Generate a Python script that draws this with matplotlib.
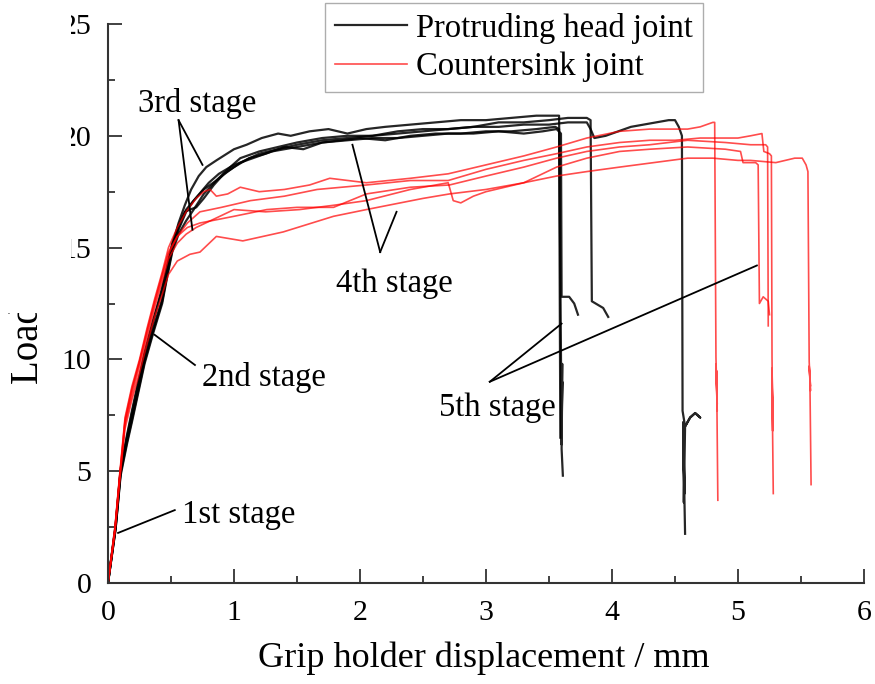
import matplotlib
matplotlib.use("Agg")
import matplotlib.pyplot as plt
from matplotlib.patches import Rectangle
from matplotlib.ticker import MultipleLocator

plt.rcParams['font.family'] = ['Liberation Serif', 'DejaVu Serif']

# protruding head joints (black)
b1_x = [0, 0.06, 0.10, 0.15, 0.19, 0.24, 0.29, 0.36, 0.42, 0.47, 0.51, 0.56, 0.61, 0.66, 0.72, 0.78, 0.86,
        1.00, 1.10, 1.22, 1.35, 1.45, 1.60, 1.75, 1.90, 2.05, 2.20, 2.40, 2.60, 2.80, 3.00, 3.20, 3.40, 3.50, 3.58,
        3.595, 3.600, 3.605, 3.600, 3.605, 3.600, 3.610]
b1_y = [0, 2.5, 5.0, 6.5, 7.6, 8.9, 10.2, 11.7, 13.0, 14.1, 15.1, 16.1, 16.9, 17.6, 18.2, 18.6, 18.9,
        19.4, 19.6, 19.9, 20.1, 20.0, 20.2, 20.3, 20.1, 20.3, 20.4, 20.5, 20.6, 20.7, 20.7, 20.8, 20.9, 20.9, 20.9,
        10.2, 6.2, 9.8, 6.5, 9.0, 6.0, 4.8]
b2_x = [0, 0.06, 0.10, 0.15, 0.19, 0.24, 0.29, 0.36, 0.43, 0.47, 0.51, 0.56, 0.62, 0.68, 0.74, 0.80, 0.88,
        1.00, 1.15, 1.30, 1.50, 1.70, 1.90, 2.10, 2.30, 2.50, 2.70, 2.90, 3.10, 3.30, 3.45, 3.56, 3.595,
        3.60, 3.66, 3.70, 3.73]
b2_y = [0, 2.4, 4.9, 6.3, 7.3, 8.6, 9.9, 11.3, 12.6, 13.8, 14.9, 15.8, 16.6, 17.1, 17.5, 17.9, 18.3,
        18.7, 19.0, 19.3, 19.5, 19.7, 19.8, 19.9, 19.9, 20.0, 20.1, 20.1, 20.2, 20.1, 20.2, 20.3, 20.1,
        12.8, 12.8, 12.5, 12.0]
b3_x = [0, 0.06, 0.10, 0.15, 0.19, 0.24, 0.29, 0.36, 0.43, 0.47, 0.51, 0.56, 0.62, 0.68, 0.76, 0.86, 0.95,
        1.05, 1.20, 1.35, 1.50, 1.70, 1.90, 2.10, 2.30, 2.50, 2.70, 2.90, 3.10, 3.30, 3.50, 3.65, 3.80, 3.83,
        3.84, 3.87, 3.93, 3.97]
b3_y = [0, 2.4, 4.8, 6.2, 7.2, 8.5, 9.8, 11.2, 12.5, 13.7, 14.8, 15.6, 16.2, 16.7, 17.4, 18.0, 18.5,
        19.0, 19.3, 19.5, 19.7, 19.9, 20.0, 20.0, 20.2, 20.3, 20.3, 20.4, 20.6, 20.6, 20.7, 20.8, 20.8, 20.7,
        12.6, 12.5, 12.3, 11.9]
b4_x = [0, 0.06, 0.10, 0.15, 0.19, 0.24, 0.29, 0.36, 0.43, 0.47, 0.51, 0.56, 0.62, 0.68, 0.76, 0.86, 0.95,
        1.05, 1.20, 1.35, 1.50, 1.70, 1.90, 2.10, 2.30, 2.50, 2.70, 2.90, 3.10, 3.30, 3.50, 3.65, 3.80, 3.83,
        3.86, 3.95, 4.05, 4.15, 4.25, 4.35, 4.45, 4.50, 4.53, 4.555,
        4.56, 4.58, 4.62, 4.66, 4.70, 4.66, 4.62, 4.58, 4.57, 4.565, 4.575, 4.565, 4.575, 4.58]
b4_y = [0, 2.5, 5.0, 6.4, 7.4, 8.7, 10.0, 11.4, 12.7, 13.9, 15.0, 15.9, 16.7, 17.1, 17.6, 18.0, 18.4,
        18.8, 19.2, 19.4, 19.6, 19.8, 19.9, 20.0, 20.1, 20.2, 20.3, 20.4, 20.4, 20.5, 20.5, 20.6, 20.6, 20.3,
        19.9, 20.0, 20.2, 20.4, 20.5, 20.6, 20.7, 20.7, 20.4, 20.0,
        7.7, 7.0, 7.4, 7.6, 7.4, 7.6, 7.4, 7.0, 3.6, 7.2, 4.0, 6.8, 3.7, 2.2]
b5_x = [0, 0.06, 0.10, 0.15, 0.19, 0.24, 0.29, 0.36, 0.43, 0.47, 0.51, 0.56, 0.61, 0.65, 0.70, 0.76, 0.84,
        0.92, 1.00, 1.12, 1.25, 1.40, 1.55, 1.70, 1.85, 2.00, 2.20, 2.40, 2.60, 2.80, 3.00, 3.20, 3.40, 3.55,
        3.58, 3.59]
b5_y = [0, 2.6, 5.1, 6.6, 7.7, 9.0, 10.3, 11.8, 13.1, 14.2, 15.2, 16.0, 16.6, 16.7, 16.8, 17.2, 17.8,
        18.3, 18.6, 19.0, 19.2, 19.5, 19.4, 19.7, 19.8, 19.9, 19.8, 20.0, 20.1, 20.1, 20.2, 20.2, 20.3, 20.4,
        20.3, 6.5]

# countersink joints (red)
r1_x = [0, 0.055, 0.095, 0.135, 0.19, 0.25, 0.31, 0.37, 0.43, 0.48, 0.55, 0.62, 0.70, 0.76, 0.81, 0.86,
        0.95, 1.05, 1.20, 1.40, 1.60, 1.76, 2.05, 2.40, 2.70, 3.00, 3.30, 3.56, 3.80, 4.06, 4.30, 4.50, 4.60,
        4.70, 4.80, 4.815,
        4.825, 4.835, 4.825, 4.835, 4.83, 4.84]
r1_y = [0, 2.5, 5.0, 7.4, 8.8, 10.0, 11.4, 12.7, 13.9, 15.0, 15.9, 16.6, 17.2, 17.5, 17.6, 17.3,
        17.4, 17.7, 17.5, 17.6, 17.8, 18.1, 17.9, 18.1, 18.3, 18.7, 19.1, 19.5, 19.9, 20.2, 20.3, 20.3, 20.3,
        20.4, 20.6, 20.6,
        10.1, 7.7, 9.8, 8.0, 9.5, 3.7]
r2_x = [0, 0.055, 0.095, 0.135, 0.19, 0.25, 0.31, 0.37, 0.43, 0.48, 0.55, 0.63, 0.73, 0.90, 1.13, 1.40,
        1.66, 2.05, 2.40, 2.70, 3.00, 3.30, 3.56, 3.80, 4.06, 4.30, 4.50, 4.70, 4.90, 5.00, 5.10, 5.19, 5.205,
        5.25, 5.265,
        5.27, 5.275, 5.27, 5.278, 5.27, 5.28]
r2_y = [0, 2.4, 4.9, 7.2, 8.6, 9.9, 11.2, 12.5, 13.7, 14.7, 15.5, 16.1, 16.6, 16.8, 17.1, 17.3,
        17.6, 17.8, 18.0, 18.0, 18.5, 18.9, 19.2, 19.5, 19.7, 19.8, 19.8, 19.9, 19.9, 19.9, 20.0, 20.1, 19.3,
        19.2, 19.1,
        10.1, 6.8, 9.6, 7.2, 9.0, 4.0]
r3_x = [0, 0.055, 0.095, 0.135, 0.19, 0.25, 0.31, 0.37, 0.43, 0.48, 0.55, 0.62, 0.70, 0.85, 1.00, 1.25,
        1.52, 1.80, 2.05, 2.40, 2.70, 2.74, 2.80, 2.90, 3.00, 3.30, 3.56, 3.80, 4.06, 4.30, 4.60, 4.90, 5.02,
        5.04, 5.14, 5.16, 5.17, 5.20, 5.24, 5.25]
r3_y = [0, 2.3, 4.8, 7.1, 8.4, 9.7, 11.0, 12.3, 13.5, 14.5, 15.2, 15.6, 15.9, 16.3, 16.7, 16.6,
        16.7, 16.9, 17.1, 17.6, 17.9, 17.1, 17.0, 17.3, 17.5, 17.9, 18.6, 19.0, 19.3, 19.4, 19.5, 19.4, 19.3,
        18.8, 18.8, 18.7, 12.5, 12.8, 12.6, 12.0]
r4_x = [0, 0.055, 0.095, 0.135, 0.19, 0.25, 0.31, 0.37, 0.43, 0.48, 0.55, 0.65, 0.73, 0.86, 1.07, 1.39,
        1.79, 2.05, 2.50, 2.71, 3.00, 3.30, 3.56, 3.80, 4.06, 4.33, 4.60, 4.80, 5.00, 5.10, 5.30, 5.45, 5.51,
        5.54, 5.555,
        5.565, 5.575, 5.565, 5.575, 5.57, 5.58]
r4_y = [0, 2.3, 4.7, 6.9, 8.2, 9.4, 10.7, 11.9, 12.9, 13.8, 14.4, 14.7, 14.8, 15.5, 15.3, 15.7,
        16.4, 16.7, 17.2, 17.4, 17.6, 17.9, 18.2, 18.4, 18.6, 18.8, 19.0, 19.0, 18.9, 18.9, 18.8, 19.0, 19.0,
        18.7, 18.4,
        9.9, 8.6, 9.7, 8.8, 9.4, 4.4]
r5_x = [0, 0.055, 0.095, 0.135, 0.19, 0.25, 0.31, 0.37, 0.43, 0.48, 0.55, 0.63, 0.73, 1.00, 1.26, 1.50,
        1.79, 2.05, 2.40, 2.71, 3.00, 3.30, 3.56, 3.80, 4.06, 4.30, 4.60, 4.90, 5.10, 5.22, 5.235, 5.24]
r5_y = [0, 2.4, 4.9, 7.3, 8.7, 9.9, 11.3, 12.6, 13.8, 14.8, 15.5, 15.9, 16.1, 16.4, 16.7, 16.8,
        16.8, 17.4, 17.7, 17.8, 18.2, 18.6, 19.0, 19.3, 19.5, 19.6, 19.8, 19.7, 19.6, 19.6, 19.5, 11.5]

black_runs = [(b1_x, b1_y), (b2_x, b2_y), (b3_x, b3_y), (b4_x, b4_y), (b5_x, b5_y)]
red_runs = [(r1_x, r1_y), (r2_x, r2_y), (r3_x, r3_y), (r4_x, r4_y), (r5_x, r5_y)]

fig = plt.figure(figsize=(8.75, 6.84), dpi=100)
ax = fig.add_axes([108/875, 101/684, 756/875, 559/684])

for i, (x, y) in enumerate(black_runs):
    ax.plot(x, y, color='black', lw=1.6, alpha=0.85,
            label='Protruding head joint' if i == 0 else None)
for i, (x, y) in enumerate(red_runs):
    ax.plot(x, y, color='red', lw=1.2, alpha=0.7,
            label='Countersink joint' if i == 0 else None)

# stage callouts
ann = dict(color='black', lw=1.3)
ax.plot([0.56, 0.75], [20.7, 18.7], **ann)
ax.plot([0.56, 0.67], [20.7, 15.8], **ann)
ax.text(0.71, 21.45, '3rd stage', ha='center', va='center', fontsize=23.5)
ax.plot([2.16, 1.94], [14.8, 19.6], **ann)
ax.plot([2.16, 2.29], [14.8, 16.6], **ann)
ax.text(2.27, 13.4, '4th stage', ha='center', va='center', fontsize=23.5)
ax.plot([0.37, 0.69], [11.1, 9.75], **ann)
ax.text(1.24, 9.2, '2nd stage', ha='center', va='center', fontsize=23.5)
ax.plot([0.08, 0.53], [2.24, 3.26], **ann)
ax.text(1.04, 3.05, '1st stage', ha='center', va='center', fontsize=23.5)
ax.plot([3.03, 3.60], [9.0, 11.6], **ann)
ax.plot([3.03, 5.15], [9.0, 14.2], **ann)
ax.text(3.09, 7.85, '5th stage', ha='center', va='center', fontsize=23.5)

ax.set_xlim(0, 6)
ax.set_ylim(0, 25)
ax.xaxis.set_major_locator(MultipleLocator(1))
ax.xaxis.set_minor_locator(MultipleLocator(0.5))
ax.yaxis.set_major_locator(MultipleLocator(5))
ax.yaxis.set_minor_locator(MultipleLocator(2.5))
ax.tick_params(which='both', direction='in', width=1.3, colors='#333333', labelcolor='black', labelsize=21.5)
ax.tick_params(which='major', length=10)
ax.tick_params(which='minor', length=5)
ax.tick_params(axis='x', pad=12)
ax.tick_params(axis='y', pad=12)
for side in ['top', 'right']:
    ax.spines[side].set_visible(False)
for side in ['left', 'bottom']:
    ax.spines[side].set_linewidth(1.5)
    ax.spines[side].set_color('#333333')

ax.set_xlabel('Grip holder displacement / mm', fontsize=26)
ax.xaxis.label.set_va('center')
ax.xaxis.set_label_coords(0.497, -0.134)

fig.text(28/875, 1 - 305/684, 'Load / kN', rotation=90, ha='center', va='center', fontsize=28)

leg = ax.legend(loc='upper left', bbox_to_anchor=(0.287, 1.038), borderaxespad=0, fontsize=23.5,
                frameon=True, fancybox=False, edgecolor='#999999', handlelength=2.2,
                handletextpad=0.3, labelspacing=0.25, borderpad=0.3)
leg.get_frame().set_linewidth(1.0)

# the source image is cropped on its left edge
fig.add_artist(Rectangle((0, 1 - 313/684), 71/875, 313/684, transform=fig.transFigure,
                         facecolor='white', edgecolor='none', zorder=10))

fig.savefig('out.png', dpi=100)
